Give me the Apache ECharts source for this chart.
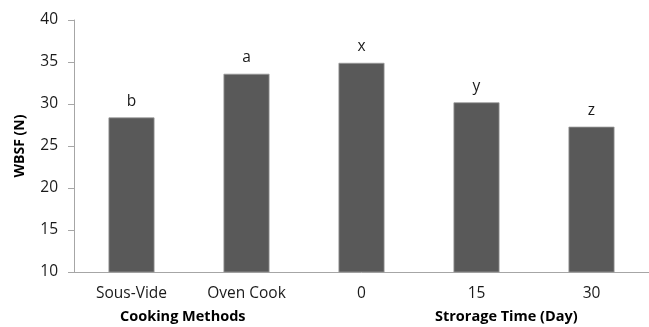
<!DOCTYPE html>
<html>
<head>
<meta charset="utf-8">
<script src="https://cdn.jsdelivr.net/npm/echarts@6/dist/echarts.min.js"></script>
<style>
html,body{margin:0;padding:0;background:#fff;}
#c{width:649px;height:327px;}
</style>
</head>
<body>
<div id="c"></div>
<script>
const categories = ['Sous-Vide', 'Oven Cook', '0', '15', '30'];
const values = [28.4, 33.6, 34.9, 30.2, 27.3];
const letters = ['b', 'a', 'x', 'y', 'z'];
const groupLabels = ['Cooking Methods', 'Strorage Time (Day)'];
const yTitle = 'WBSF (N)';

const FONT = 'Open Sans';
const chart = echarts.init(document.getElementById('c'), null, {renderer: 'canvas'});
chart.setOption({
  animation: false,
  backgroundColor: '#ffffff',
  grid: {left: 74, right: -4, top: 20, bottom: 55, containLabel: false},
  xAxis: {
    type: 'category',
    data: categories,
    axisLine: {lineStyle: {color: '#a6a6a6', width: 1}},
    axisTick: {show: false},
    axisLabel: {color: '#1a1a1a', fontFamily: FONT, fontSize: 15.5, margin: 14}
  },
  yAxis: {
    type: 'value',
    min: 10, max: 40, interval: 5,
    name: yTitle,
    nameLocation: 'middle',
    nameGap: 47,
    nameTextStyle: {color: '#000', fontFamily: FONT, fontSize: 14, fontWeight: 'bold'},
    splitLine: {show: false},
    axisLine: {show: true, lineStyle: {color: '#a6a6a6', width: 1}},
    axisTick: {show: true, length: 6, lineStyle: {color: '#a6a6a6'}},
    axisLabel: {color: '#1a1a1a', fontFamily: FONT, fontSize: 15.5, margin: 16}
  },
  series: [{
    type: 'bar',
    data: values,
    barWidth: '40%',
    itemStyle: {color: '#595959', borderColor: '#9a9a9a', borderWidth: 0.8},
    label: {
      show: true, position: 'top', distance: 8,
      color: '#1a1a1a', fontFamily: FONT, fontSize: 15.5,
      formatter: p => letters[p.dataIndex]
    }
  }],
  graphic: [
    {type: 'text', left: 120, top: 309, style: {text: groupLabels[0], fill: '#000', font: 'bold 14.5px "Open Sans"'}},
    {type: 'text', left: 435, top: 309, style: {text: groupLabels[1], fill: '#000', font: 'bold 14.5px "Open Sans"'}}
  ]
});
</script>
</body>
</html>
